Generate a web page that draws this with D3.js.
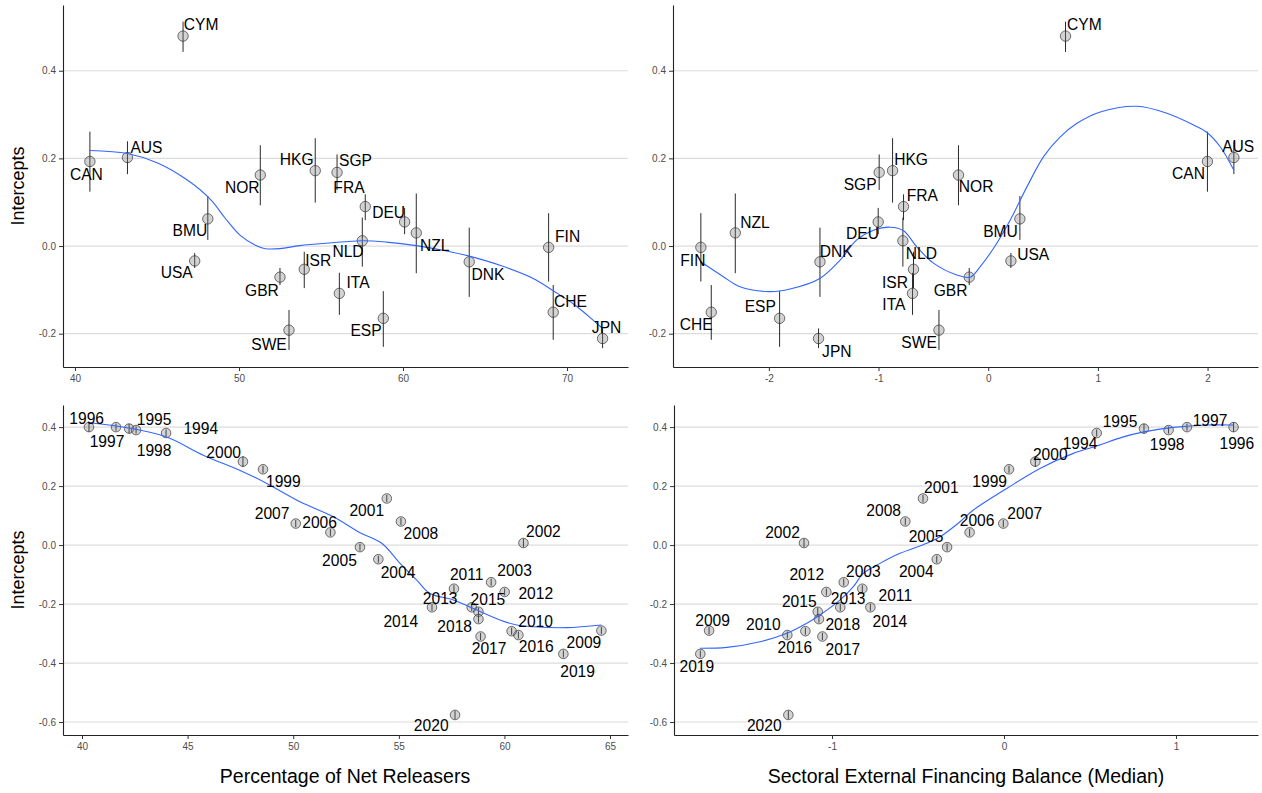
<!DOCTYPE html>
<html>
<head>
<meta charset="utf-8">
<script src="https://cdn.jsdelivr.net/npm/d3@7"></script>
<style>
  body { margin: 0; background: #fff; }
  text { font-family: "Liberation Sans", Arial, Helvetica, sans-serif; }
</style>
</head>
<body>
<div id="main"></div>
<script>
// --- country panel data (top row)
const countries = ['CYM', 'CAN', 'AUS', 'NOR', 'HKG', 'SGP', 'FRA', 'DEU', 'NZL', 'NLD', 'ISR',
  'ITA', 'ESP', 'DNK', 'FIN', 'CHE', 'JPN', 'USA', 'BMU', 'GBR', 'SWE'];
const countryReleasers = [46.59, 40.91, 43.2, 51.3, 54.65, 55.98, 57.7, 60.1, 60.81, 57.52, 53.98,
  56.12, 58.8, 64.04, 68.88, 69.16, 72.17, 47.3, 48.1, 52.5, 53.05];
const countryBalance = [0.705, 1.999, 2.24, -0.271, -0.872, -0.994, -0.772, -1.003, -2.306, -0.778, -0.681,
  -0.69, -1.902, -1.534, -2.62, -2.525, -1.547, 0.207, 0.289, -0.173, -0.449];
const countryIntercept = [0.479, 0.193, 0.202, 0.162, 0.172, 0.168, 0.090, 0.055, 0.030, 0.012, -0.053,
  -0.108, -0.165, -0.036, -0.003, -0.151, -0.211, -0.034, 0.062, -0.071, -0.192];
const countryLow = [0.443, 0.124, 0.164, 0.093, 0.099, 0.128, 0.059, 0.027, -0.062, -0.047, -0.096,
  -0.157, -0.230, -0.116, -0.081, -0.214, -0.233, -0.050, 0.014, -0.089, -0.237];
const countryHigh = [0.512, 0.261, 0.239, 0.230, 0.246, 0.209, 0.118, 0.087, 0.120, 0.065, -0.013,
  -0.061, -0.103, 0.042, 0.075, -0.089, -0.188, -0.016, 0.114, -0.050, -0.146];

// --- year panel data (bottom row)
const years = ['1994', '1995', '1996', '1997', '1998', '1999', '2000', '2001', '2002', '2003', '2004',
  '2005', '2006', '2007', '2008', '2009', '2010', '2011', '2012', '2013', '2014', '2015', '2016',
  '2017', '2018', '2019', '2020'];
const yearReleasers = [43.98, 42.23, 40.33, 41.61, 42.56, 48.57, 47.62, 54.43, 60.9, 59.37, 54.03,
  53.16, 51.76, 50.12, 55.10, 64.59, 60.66, 57.61, 60.01, 58.45, 56.57, 58.77, 60.34,
  58.87, 58.77, 62.79, 57.66];
const yearBalance = [0.539, 0.814, 1.335, 1.064, 0.957, 0.029, 0.182, -0.471, -1.163, -0.932, -0.391,
  -0.331, -0.2, -0.004, -0.574, -1.715, -1.26, -0.824, -1.033, -0.952, -0.777, -1.083, -1.155,
  -1.056, -1.076, -1.766, -1.254];
const yearIntercept = [0.380, 0.395, 0.400, 0.400, 0.390, 0.257, 0.283, 0.158, 0.007, -0.126, -0.048,
  -0.007, 0.043, 0.073, 0.080, -0.290, -0.305, -0.148, -0.159, -0.211, -0.211, -0.226, -0.292,
  -0.310, -0.251, -0.369, -0.576];
const yearSE = [0.012, 0.016, 0.016, 0.012, 0.012, 0.012, 0.018, 0.012, 0.014, 0.012, 0.012,
  0.012, 0.012, 0.012, 0.012, 0.012, 0.012, 0.012, 0.012, 0.012, 0.012, 0.014, 0.012,
  0.012, 0.012, 0.012, 0.014];

// --- loess fits
const smoothTLx = [40.91, 43.2, 45.0, 46.87, 48.3, 49.15, 50.06, 51.0, 51.6, 52.5, 53.7, 55.5, 57.5,
  59.0, 60.81, 62.5, 64.04, 66.0, 68.0, 69.16, 70.5, 72.17];
const smoothTLy = [0.218, 0.211, 0.190, 0.150, 0.105, 0.064, 0.025, 0.002, -0.006, -0.006, 0.001, 0.007, 0.012,
  0.009, 0.001, -0.010, -0.023, -0.045, -0.075, -0.102, -0.135, -0.188];
const smoothTRx = [-2.62, -2.415, -2.263, -1.998, -1.807, -1.535, -1.35, -1.198, -1.046, -0.894, -0.772,
  -0.651, -0.499, -0.286, -0.164, -0.073, 0.049, 0.2, 0.353, 0.505, 0.657, 0.809, 1.022, 1.357,
  1.63, 1.873, 2.0, 2.117, 2.24];
const smoothTRy = [-0.036, -0.070, -0.093, -0.104, -0.098, -0.074, -0.032, 0.014, 0.036, 0.043, 0.035,
  -0.002, -0.039, -0.066, -0.071, -0.047, -0.005, 0.059, 0.135, 0.204, 0.249, 0.280, 0.306, 0.319,
  0.303, 0.276, 0.258, 0.226, 0.173];
const smoothBLx = [40.33, 42.12, 43.98, 45.74, 47.64, 48.75, 50.32, 51.9, 53.16, 54.19, 55.06, 55.85,
  56.48, 57.58, 58.53, 59.79, 60.58, 61.37, 62.95, 64.59];
const smoothBLy = [0.415, 0.398, 0.367, 0.305, 0.248, 0.209, 0.147, 0.096, 0.042, 0.006, -0.062, -0.119,
  -0.164, -0.186, -0.215, -0.254, -0.271, -0.277, -0.280, -0.271];
const smoothBRx = [-1.767, -1.612, -1.419, -1.263, -1.147, -1.070, -0.953, -0.876, -0.818, -0.721, -0.605,
  -0.449, -0.372, -0.256, -0.178, 0.016, 0.209, 0.403, 0.539, 0.694, 0.814, 0.984, 1.178, 1.335];
const smoothBRy = [-0.350, -0.347, -0.328, -0.299, -0.265, -0.237, -0.186, -0.141, -0.096, -0.062, -0.028,
  0.006, 0.028, 0.079, 0.119, 0.192, 0.260, 0.311, 0.336, 0.367, 0.384, 0.399, 0.407, 0.407];

// --- tick values
const ticksTLx = [40, 50, 60, 70];
const ticksTRx = [-2, -1, 0, 1, 2];
const ticksBLx = [40, 45, 50, 55, 60, 65];
const ticksBRx = [-1, 0, 1];
const ticksTopY = [-0.2, 0.0, 0.2, 0.4];
const ticksBottomY = [-0.6, -0.4, -0.2, 0.0, 0.2, 0.4];

const xTitleLeft = 'Percentage of Net Releasers';
const xTitleRight = 'Sectoral External Financing Balance (Median)';
const yTitle = 'Intercepts';

// --- label placement (px offsets of label centre from its point, mimicking ggrepel)
const nudgeTL = {
  CYM: [18, -11.5], CAN: [-3.5, 13], AUS: [19, -10], NOR: [-18, 12.5], HKG: [-18.5, -11],
  SGP: [18.5, -12], FRA: [-16.3, -19.2], DEU: [-16, -10], NZL: [18.5, 13], NLD: [-14.3, 10.5],
  ISR: [14, -9.3], ITA: [18.7, -10.8], ESP: [-17.3, 11.8], DNK: [18.8, 12.5], FIN: [19, -11.3],
  CHE: [17.3, -10.7], JPN: [4, -11.3], USA: [-18, 11], BMU: [-18, 12], GBR: [-18, 13], SWE: [-20, 14]
};
const nudgeTR = {
  FIN: [-8, 13], CHE: [-15, 12], NZL: [19.7, -10.8], ESP: [-19.3, -11.5], DNK: [16.3, -10.7],
  JPN: [18.3, 12.7], SGP: [-19, 11.8], HKG: [18.5, -11.2], FRA: [18.7, -11.2], DEU: [-15.7, 11.3],
  NLD: [18.6, 12.6], ISR: [-18.6, 12.7], ITA: [-18.6, 10.7], GBR: [-18.7, 13.7], SWE: [-19.9, 11.8],
  NOR: [17.7, 11.3], BMU: [-19.4, 12.7], USA: [22.3, -6.2], CYM: [18.8, -11.5], CAN: [-19, 12],
  AUS: [4.3, -11.3]
};
const nudgeBL = {
  1996: [-2.3, -8.3], 1997: [-9, 14.2], 1995: [25, -9.3], 1998: [18, 20], 1994: [34.7, -5],
  2000: [-19.3, -9.5], 1999: [20.3, 12], 2007: [-23.7, -10], 2006: [-10.8, -10.2], 2005: [-20.5, 13],
  2001: [-20, 12.3], 2008: [20, 12.3], 2004: [19.7, 12.7], 2002: [20, -11.3], 2011: [12.7, -14],
  2003: [23.5, -11.7], 2012: [31.1, 1.7], 2013: [-31.5, -8.8], 2015: [9.5, -12.7], 2014: [-31.2, 14.3],
  2018: [-23.8, 7], 2010: [17.2, -14], 2017: [8.5, 12.3], 2016: [24.6, 15.7], 2009: [-17.5, 11.8],
  2019: [14.2, 17], 2020: [-23.8, 10]
};
const nudgeBR = {
  2019: [-3.5, 12.7], 2009: [3.5, -10.7], 2010: [-24, -10.9], 2016: [-10.5, 16.5], 2017: [20.5, 12.7],
  2018: [23.8, 5], 2015: [-18.5, -10], 2013: [7.9, -9.2], 2012: [-19.6, -17.7], 2003: [19.6, -11],
  2011: [33, 6.7], 2014: [19.5, 14], 2002: [-21.5, -10.7], 2020: [-24.1, 10], 2008: [-21.6, -10.7],
  2001: [18.3, -10.7], 2005: [-21.1, -10.7], 2004: [-20.5, 12.3], 2006: [7.5, -11.5], 2007: [21.4, -10.5],
  1999: [-19.3, 12.3], 2000: [15, -7.5], 1994: [-16.7, 10.2], 1995: [-24, -7.3], 1998: [-1.4, 14],
  1997: [23, -6.7], 1996: [3.3, 16.6]
};

const width = 1262, height = 793;
const svg = d3.select('#main').append('svg')
  .attr('width', width)
  .attr('height', height);

const countryRows = countries.map((c, i) => ({
  label: c, x1: countryReleasers[i], x2: countryBalance[i],
  y: countryIntercept[i], lo: countryLow[i], hi: countryHigh[i]
}));
const yearRows = years.map((yr, i) => ({
  label: yr, x1: yearReleasers[i], x2: yearBalance[i],
  y: yearIntercept[i], lo: yearIntercept[i] - yearSE[i], hi: yearIntercept[i] + yearSE[i]
}));

const fmtTick = (f) => (d) => d3.format(f)(d).replace('\u2212', '-');

function drawPanel(p) {
  const w = p.right - p.left;
  const h = p.bottom - p.top;
  const g = svg.append('g').attr('transform', `translate(${p.left},${p.top})`);

  const xScale = d3.scaleLinear().domain(p.xDomain).range([0, w]);
  const yScale = d3.scaleLinear().domain(p.yDomain).range([h, 0]);

  // horizontal grid
  g.append('g').selectAll('line')
    .data(p.yTicks)
    .join('line')
    .attr('x1', 0).attr('x2', w)
    .attr('y1', d => yScale(d)).attr('y2', d => yScale(d))
    .attr('stroke', '#dcdcdc')
    .attr('stroke-width', 1.2);

  // axes
  const xAxis = g.append('g')
    .attr('transform', `translate(0,${h})`)
    .call(d3.axisBottom(xScale).tickValues(p.xTicks).tickSize(4).tickSizeOuter(0)
      .tickPadding(4).tickFormat(fmtTick(p.xFormat)));
  const yAxis = g.append('g')
    .call(d3.axisLeft(yScale).tickValues(p.yTicks).tickSize(4).tickSizeOuter(0)
      .tickPadding(3).tickFormat(fmtTick('.1f')));
  [xAxis, yAxis].forEach(a => {
    a.select('.domain').attr('stroke', '#222').attr('stroke-width', 1.1);
    a.selectAll('.tick line').attr('stroke', '#333');
    a.selectAll('.tick text').attr('fill', '#4d4d4d').style('font-size', '10px')
      .style('font-family', '"Liberation Sans", Arial, Helvetica, sans-serif');
  });

  // error bars
  g.append('g').selectAll('line')
    .data(p.rows)
    .join('line')
    .attr('x1', d => xScale(d[p.xKey])).attr('x2', d => xScale(d[p.xKey]))
    .attr('y1', d => yScale(d.lo)).attr('y2', d => yScale(d.hi))
    .attr('stroke', '#2a2a2a')
    .attr('stroke-width', 1);

  // points
  g.append('g').selectAll('circle')
    .data(p.rows)
    .join('circle')
    .attr('cx', d => xScale(d[p.xKey]))
    .attr('cy', d => yScale(d.y))
    .attr('r', p.r)
    .attr('fill', 'rgba(120,120,120,0.33)')
    .attr('stroke', 'rgba(40,40,40,0.65)')
    .attr('stroke-width', 1);

  // smooth line
  const smooth = p.smoothX.map((v, i) => [v, p.smoothY[i]]);
  g.append('path')
    .datum(smooth)
    .attr('fill', 'none')
    .attr('stroke', '#3366FF')
    .attr('stroke-width', 1.1)
    .attr('d', d3.line()
      .x(d => xScale(d[0]))
      .y(d => yScale(d[1]))
      .curve(d3.curveCatmullRom.alpha(0.5)));

  // labels
  g.append('g').selectAll('text')
    .data(p.rows)
    .join('text')
    .attr('x', d => xScale(d[p.xKey]) + (p.nudge[d.label] || [0, 0])[0])
    .attr('y', d => yScale(d.y) + (p.nudge[d.label] || [0, 0])[1] + 5.6)
    .attr('text-anchor', 'middle')
    .attr('fill', '#000')
    .style('font-size', '15.6px')
    .text(d => d.label);
}

drawPanel({
  left: 63, right: 628, top: 5, bottom: 367,
  xDomain: [39.27, 73.72], yDomain: [-0.276, 0.550],
  xTicks: ticksTLx, yTicks: ticksTopY, xFormat: 'd',
  rows: countryRows, xKey: 'x1', r: 5.2,
  smoothX: smoothTLx, smoothY: smoothTLy, nudge: nudgeTL
});
drawPanel({
  left: 673, right: 1258, top: 5, bottom: 367,
  xDomain: [-2.874, 2.46], yDomain: [-0.276, 0.550],
  xTicks: ticksTRx, yTicks: ticksTopY, xFormat: 'd',
  rows: countryRows, xKey: 'x2', r: 5.2,
  smoothX: smoothTRx, smoothY: smoothTRy, nudge: nudgeTR
});
drawPanel({
  left: 63, right: 628, top: 405, bottom: 735,
  xDomain: [39.10, 65.85], yDomain: [-0.644, 0.475],
  xTicks: ticksBLx, yTicks: ticksBottomY, xFormat: 'd',
  rows: yearRows, xKey: 'x1', r: 4.8,
  smoothX: smoothBLx, smoothY: smoothBLy, nudge: nudgeBL
});
drawPanel({
  left: 674, right: 1258, top: 405, bottom: 735,
  xDomain: [-1.919, 1.477], yDomain: [-0.644, 0.475],
  xTicks: ticksBRx, yTicks: ticksBottomY, xFormat: 'd',
  rows: yearRows, xKey: 'x2', r: 4.8,
  smoothX: smoothBRx, smoothY: smoothBRy, nudge: nudgeBR
});

// axis titles
svg.append('text')
  .attr('transform', 'translate(24,186) rotate(-90)')
  .attr('text-anchor', 'middle')
  .style('font-size', '18px')
  .text(yTitle);
svg.append('text')
  .attr('transform', 'translate(24,570) rotate(-90)')
  .attr('text-anchor', 'middle')
  .style('font-size', '18px')
  .text(yTitle);
svg.append('text')
  .attr('x', 345).attr('y', 783)
  .attr('text-anchor', 'middle')
  .style('font-size', '19.5px')
  .text(xTitleLeft);
svg.append('text')
  .attr('x', 966).attr('y', 783)
  .attr('text-anchor', 'middle')
  .style('font-size', '19.5px')
  .text(xTitleRight);
</script>
</body>
</html>
